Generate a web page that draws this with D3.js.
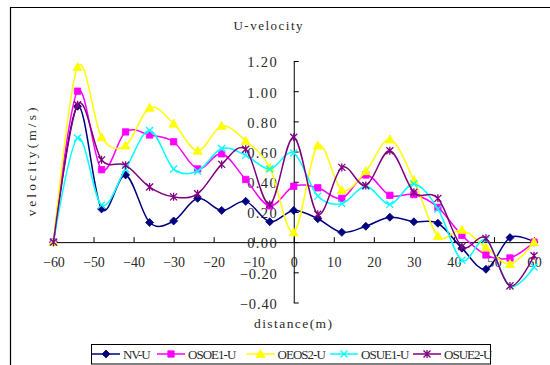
<!DOCTYPE html>
<html>
<head>
<meta charset="utf-8">
<script src="https://cdn.jsdelivr.net/npm/d3@7"></script>
<style>
  html, body { margin: 0; padding: 0; background: #fff; }
  svg { display: block; }
  text { font-family: "Liberation Serif", "DejaVu Serif", serif; fill: #2a2a2a; }
</style>
</head>
<body>
<svg id="chart" width="550" height="365"></svg>
<script>
// Measurement stations (m) along the section
const distance = [-60, -54, -48, -42, -36, -30, -24, -18, -12, -6, 0, 6, 12, 18, 24, 30, 36, 42, 48, 54, 60];

// U-velocity (m/s) per case
const nvU    = [0, 0.90, 0.22, 0.445, 0.13, 0.14, 0.29, 0.21, 0.27, 0.135, 0.21, 0.155, 0.065, 0.105, 0.165, 0.135, 0.125, -0.04, -0.18, 0.03, 0];
const osoe1U = [0, 1.00, 0.48, 0.73, 0.71, 0.665, 0.485, 0.585, 0.415, 0.24, 0.37, 0.36, 0.29, 0.445, 0.31, 0.315, 0.23, 0.045, -0.085, -0.105, 0];
const oeos2U = [0, 1.16, 0.695, 0.64, 0.89, 0.785, 0.605, 0.77, 0.67, 0.495, 0.065, 0.64, 0.345, 0.47, 0.68, 0.41, 0.04, 0.08, -0.035, -0.145, 0];
const osue1U = [0, 0.69, 0.245, 0.485, 0.74, 0.485, 0.47, 0.62, 0.575, 0.485, 0.59, 0.305, 0.255, 0.37, 0.25, 0.385, 0.22, -0.12, 0.015, -0.29, -0.165];
const osue2U = [0, 0.91, 0.545, 0.51, 0.365, 0.30, 0.32, 0.515, 0.615, 0.25, 0.695, 0.185, 0.495, 0.375, 0.605, 0.33, 0.29, -0.03, 0.025, -0.29, -0.09];

const seriesNames = ["NV-U", "OSOE1-U", "OEOS2-U", "OSUE1-U", "OSUE2-U"];
const seriesValues = [nvU, osoe1U, oeos2U, osue1U, osue2U];
const seriesColors = ["#000080", "#ff00ff", "#ffff00", "#00ffff", "#800080"];
const seriesMarkers = ["diamond", "square", "triangle", "cross", "star"];

const xTicks = [-60, -50, -40, -30, -20, -10, 0, 10, 20, 30, 40, 50, 60];
const yTicks = [-0.4, -0.2, 0, 0.2, 0.4, 0.6, 0.8, 1.0, 1.2];

const svg = d3.select("#chart");

// fixed-pitch look: stretch each label to a constant advance per character
function monospace(sel, advance) {
  sel.each(function () {
    const n = this.textContent.length;
    d3.select(this).attr("textLength", n * advance).attr("lengthAdjust", "spacing");
  });
}

// outer frame (left and top edges)
svg.append("path")
  .attr("d", "M10.5,365 V7.5 H550")
  .attr("fill", "none").attr("stroke", "#000").attr("stroke-width", 1.2);

const x = d3.scaleLinear().domain([-60, 60]).range([53.5, 534]);
const y = d3.scaleLinear().domain([-0.4, 1.2]).range([302.5, 61]);

// title
svg.append("text").attr("x", 268).attr("y", 30).attr("text-anchor", "middle")
  .attr("font-size", 13).text("U-velocity").call(monospace, 6.9);

// x axis through y = 0
const xAxis = d3.axisBottom(x).tickValues(xTicks).tickSize(0).tickFormat(d3.format("d"));
const gx = svg.append("g").attr("transform", `translate(0,${y(0)})`).call(xAxis);
gx.attr("font-family", null);
gx.select(".domain").attr("stroke", "#000");
gx.selectAll(".tick line").attr("y2", -5).attr("stroke", "#000");
gx.selectAll(".tick text").attr("y", 0).attr("dy", 25).attr("font-size", 14).attr("fill", "#2a2a2a")
  .call(monospace, 7.2);

// y axis through x = 0
const yAxis = d3.axisLeft(y).tickValues(yTicks).tickSize(0).tickFormat(d3.format(".2f"));
const gy = svg.append("g").attr("transform", `translate(${x(0)},0)`).call(yAxis);
gy.attr("font-family", null);
gy.select(".domain").attr("stroke", "#000");
gy.selectAll(".tick line").attr("x2", 5).attr("stroke", "#000");
gy.selectAll(".tick text").attr("x", -17).attr("dy", "0.4em").attr("font-size", 14.5).attr("fill", "#2a2a2a")
  .call(monospace, 7.4);

// axis titles
svg.append("text").attr("x", 293).attr("y", 328).attr("text-anchor", "middle")
  .attr("font-size", 13.5).text("distance(m)").call(monospace, 7.1);
svg.append("text").attr("transform", "translate(36,162) rotate(-90)")
  .attr("text-anchor", "middle").attr("font-size", 13.5)
  .text("velocity(m/s)").call(monospace, 8.4);

// marker shapes
function markerPath(type) {
  switch (type) {
    case "diamond": return "M0,-4 L4,0 L0,4 L-4,0 Z";
    case "square": return "M-3.2,-3.2 H3.2 V3.2 H-3.2 Z";
    case "triangle": return "M0,-4.5 L4.5,3.5 L-4.5,3.5 Z";
    case "cross": return "M-3.5,-3.5 L3.5,3.5 M-3.5,3.5 L3.5,-3.5";
    case "star": return "M-3.5,-3.5 L3.5,3.5 M-3.5,3.5 L3.5,-3.5 M0,-4 V4";
  }
}
function drawMarker(g, type, color) {
  const filled = type === "diamond" || type === "square" || type === "triangle";
  g.append("path").attr("d", markerPath(type))
    .attr("fill", filled ? color : "none")
    .attr("stroke", color).attr("stroke-width", filled ? 0.8 : 1.3);
}

const line = d3.line()
  .x((d, i) => x(distance[i]))
  .y(d => y(d))
  .curve(d3.curveCardinal.tension(0));

seriesValues.forEach((vals, k) => {
  const g = svg.append("g");
  g.append("path").attr("d", line(vals)).attr("fill", "none")
    .attr("stroke", seriesColors[k]).attr("stroke-width", 1.5);
  vals.forEach((v, i) => {
    const m = g.append("g").attr("transform", `translate(${x(distance[i])},${y(v)})`);
    drawMarker(m, seriesMarkers[k], seriesColors[k]);
  });
});

// legend: one entry per series, laid out in a single boxed row
const legend = svg.append("g");
legend.append("rect").attr("x", 91.5).attr("y", 344.5).attr("width", 399).attr("height", 19.5)
  .attr("fill", "#fff").attr("stroke", "#000").attr("stroke-width", 1);
const legendStart = [92, 157, 246.5, 330, 413];
seriesNames.forEach((name, k) => {
  const lx = legendStart[k];
  const item = legend.append("g");
  item.append("line").attr("x1", lx).attr("x2", lx + 28).attr("y1", 354).attr("y2", 354)
    .attr("stroke", seriesColors[k]).attr("stroke-width", 1.5);
  const m = item.append("g").attr("transform", `translate(${lx + 14},354)`);
  drawMarker(m, seriesMarkers[k], seriesColors[k]);
  item.append("text").attr("x", lx + 31).attr("y", 358.5).attr("font-size", 13).text(name)
    .call(monospace, 6.9);
});
</script>
</body>
</html>
